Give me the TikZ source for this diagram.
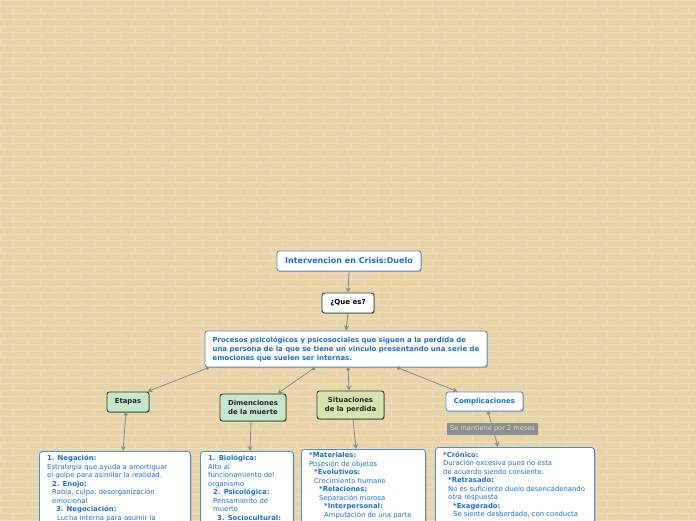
\documentclass[tikz,border=0pt]{standalone}
\usepackage{fontspec}
\setmainfont{DejaVu Sans}
\usetikzlibrary{arrows.meta,shadows}
\definecolor{bg}{HTML}{E8D4A9}
\definecolor{brick}{HTML}{EEDDB8}
\definecolor{bbord}{HTML}{4A8FDD}
\definecolor{btext}{HTML}{1A6FD6}
\definecolor{mint}{HTML}{C6E6CD}
\definecolor{olive}{HTML}{D5E4AE}
\definecolor{dkbord}{HTML}{2F3A2F}
\definecolor{cgray}{HTML}{8A8A8A}
\definecolor{lgray}{HTML}{8E8E8E}
\tikzset{
  shad/.style={drop shadow={shadow xshift=0.8pt,shadow yshift=-0.8pt,opacity=0.25,fill=black}},
  bluebox/.style={draw=bbord,fill=white,rounded corners=2.5pt,line width=0.9pt,text=btext,
    font=\fontsize{6.95}{9}\selectfont\bfseries,inner sep=2pt,shad},
  blackbox/.style={draw=dkbord,fill=white,rounded corners=2.5pt,line width=0.9pt,text=black,
    font=\fontsize{7}{8}\selectfont\bfseries,inner sep=2pt,shad},
  greenbox/.style={draw=dkbord,fill=mint,rounded corners=2.5pt,line width=0.9pt,text=black!85,
    font=\fontsize{6.9}{9}\selectfont\bfseries,inner sep=2pt,align=center,shad},
  detailbox/.style={draw=bbord,fill=white,rounded corners=3pt,line width=0.9pt,anchor=north west,shad},
  detailtext/.style={anchor=north west,inner sep=0pt,align=left,text=btext,
    font=\fontsize{6.85}{8.5}\selectfont},
  conn/.style={draw=cgray,line width=0.8pt,-{Stealth[length=5pt,width=5pt]}},
  dotconn/.style={draw=cgray,line width=0.8pt,{Circle[length=3.6pt]}-{Stealth[length=5pt,width=5pt]}},
  tag/.style={fill=lgray,text=white!88!black,font=\fontsize{6.6}{7}\selectfont,inner sep=1.5pt,rounded corners=0.5pt}
}
\begin{document}
\begin{tikzpicture}[x=1pt,y=-1pt]
\useasboundingbox (0,0) rectangle (696,520);
\clip (0,0) rectangle (696,520);
\fill[bg] (0,0) rectangle (696,520);
\foreach \r in {0,...,80}{
  \draw[brick,line width=0.6pt] (0,\r*6.5) -- (696,\r*6.5);
  \pgfmathsetmacro{\off}{mod(\r,2)*13.5}
  \foreach \k in {0,...,26}{
    \draw[brick,line width=0.6pt] ({\k*27+\off},\r*6.5) -- ++(0,6.5);
  }
}

% main nodes
\node[bluebox,font=\fontsize{8}{9}\selectfont\bfseries,minimum width=144,minimum height=20] (title) at (349,261) {Intervencion en Crisis:Duelo};
\node[blackbox,minimum width=52,minimum height=20] (que) at (348,303) {¿Que es?};
\node[bluebox,minimum width=282,minimum height=36,align=left] (proc) at (346,349)
 {Procesos psicológicos y psicosociales que siguen a la perdida de\\una persona de la que se tiene un vinculo presentando una serie de\\emociones que suelen ser internas.};
\node[greenbox,minimum width=42,minimum height=20] (etapas) at (128,402) {Etapas};
\node[greenbox,minimum width=66,minimum height=27] (dimen) at (253,407.5) {Dimenciones\\de la muerte};
\node[greenbox,fill=olive,minimum width=67,minimum height=28] (situ) at (350.5,405) {Situaciones\\de la perdida};
\node[bluebox,font=\fontsize{7}{9}\selectfont\bfseries,minimum width=77,minimum height=19] (compl) at (484.5,401.5) {Complicaciones};

% detail boxes
\node[detailbox,minimum width=151,minimum height=110] (etd) at (39,451) {};
\node[detailbox,minimum width=93,minimum height=110] (dmd) at (200,451) {};
\node[detailbox,minimum width=124,minimum height=110] (std) at (301,449) {};
\node[detailbox,minimum width=159,minimum height=110] (cpd) at (435,447) {};

\node[detailtext] (etdt) at (47,455.3) {\textbf{1. Negación:}\\
Estrategia que ayuda a amortiguar\\
el golpe para asimilar la realidad.\\
\hspace*{5pt}\textbf{2. Enojo:}\\
\hspace*{5pt}Rabia, culpa; desorganización\\
\hspace*{5pt}emocional\\
\hspace*{9pt}\textbf{3. Negociación:}\\
\hspace*{10pt}Lucha interna para asumir la};

\node[detailtext] (dmdt) at (208,455.3) {\textbf{1. Biológica:}\\
Alto al\\
funcionamiento del\\
organismo\\
\hspace*{5pt}\textbf{2. Psicológica:}\\
\hspace*{5pt}Pensamiento de\\
\hspace*{5pt}muerte\\
\hspace*{9pt}\textbf{3. Sociocultural:}};

\node[detailtext] (stdt) at (309,452.5) {\textbf{*Materiales:}\\
Posesión de objetos\\
\hspace*{5pt}\textbf{*Evolutivos:}\\
\hspace*{5pt}Crecimiento humano\\
\hspace*{10pt}\textbf{*Relaciones:}\\
\hspace*{10pt}Separación morosa\\
\hspace*{15pt}\textbf{*Interpersonal:}\\
\hspace*{15pt}Amputación de una parte};

\node[detailtext] (cpdt) at (443,451.5) {\textbf{*Crónico:}\\
Duración excesiva pues no esta\\
de acuerdo siendo consiente.\\
\hspace*{5pt}\textbf{*Retrasado:}\\
\hspace*{5pt}No es suficiente duelo desencadenando\\
\hspace*{5pt}otra respuesta\\
\hspace*{10pt}\textbf{*Exagerado:}\\
\hspace*{10pt}Se siente desbordado, con conducta};

% connectors
\draw[conn] (title.south) -- (que.north);
\draw[conn] (que.south) -- (proc.north);
\draw[dotconn] ([xshift=-137pt]proc.south) -- ([xshift=-2pt]etapas.north east);
\draw[dotconn] ([xshift=-31pt]proc.south) -- ([xshift=-9pt]dimen.north east);
\draw[dotconn] ([xshift=2pt]proc.south) -- ([xshift=-1.5pt]situ.north);
\draw[dotconn] ([xshift=51pt]proc.south) -- ([xshift=12pt]compl.north west);

\draw[dotconn] ([xshift=-2pt]etapas.south) -- ([xshift=84pt]etd.north west);
\draw[conn] ([xshift=-2pt]dimen.south) -- ([xshift=50pt]dmd.north west);
\draw[conn] ([xshift=2.5pt]situ.south) -- ([xshift=55pt]std.north west);
\draw[dotconn] ([xshift=3.5pt]compl.south) -- ([xshift=63pt]cpd.north west);
\node[tag,minimum width=91,minimum height=12] (lbl) at (492.5,429) {Se mantiene por 2 meses};
\end{tikzpicture}
\end{document}
